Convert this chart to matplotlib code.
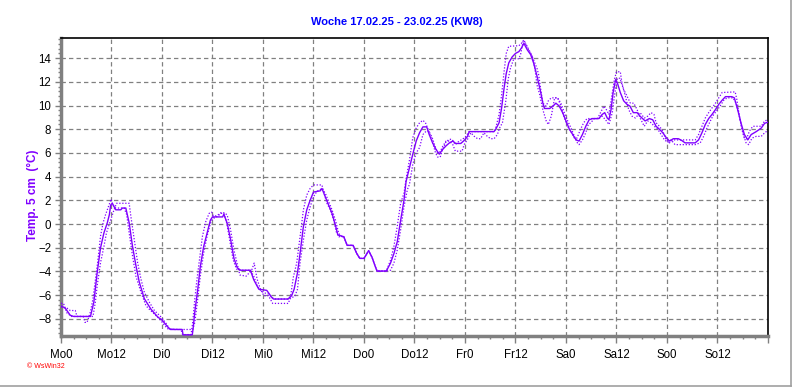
import matplotlib
matplotlib.use("Agg")
import matplotlib.pyplot as plt
from matplotlib.ticker import MultipleLocator, FixedLocator
from matplotlib.lines import Line2D

# ---------------- data (hours since Monday 0:00, temperature in °C) ----------------
main_h = [0, 1, 2.2, 3, 7, 7.8, 8.6, 9.4, 10.2, 11, 11.5, 11.8, 12.2, 13, 14.2, 14.6, 15.4, 16.2, 17, 17.8,
          18.6, 19.8, 21.4, 23, 24, 25.4, 26, 28.8, 29, 31.2, 31.4, 31.8, 32.5, 33.1, 33.9, 34.7, 35.5, 36, 38.4, 38.7,
          39.5, 40.3, 41.1, 41.9, 42.7, 45, 45.8, 47, 48.9, 50.1, 50.5, 54, 54.8, 55.4, 56.2, 56.8, 57.6, 58.4, 59.2, 60,
          61.6, 62, 62.8, 63.6, 64.4, 65.2, 65.8, 67.2, 68, 69.4, 70.3, 71, 72, 73.1, 73.9, 74.7, 75.1, 77.3, 78.3, 79.1,
          79.9, 80.7, 81.5, 82, 82.8, 83.6, 84.4, 85.2, 86, 86.9, 87.5, 88.3, 89.1, 89.9, 90.7, 91.5, 92.3, 93.1, 93.8, 95,
          95.8, 96.6, 97, 102.9, 103.3, 104.1, 104.7, 105.3, 105.8, 106.4, 107.2, 108, 108.8, 109.4, 110, 110.8, 111.6, 112.3, 113.1, 114,
          114.5, 114.9, 116.1, 116.9, 117.6, 118.4, 119.2, 120, 120.8, 121.6, 122.4, 123.1, 123.9, 124.7, 125.5, 126.3, 127.8, 128.6, 129.2, 129.8,
          130.2, 130.7, 131.2, 131.8, 132.3, 132.9, 133.7, 134.5, 135.2, 136, 136.9, 137.6, 138.8, 139.8, 140.6, 141.4, 142.2, 143, 143.8, 144.6,
          145.5, 146.7, 147.5, 148.3, 150.7, 151.5, 152.3, 153.1, 153.9, 154.7, 155.5, 156.3, 157.1, 157.9, 159.4, 160, 160.8, 161.6, 162.4, 163.2,
          164, 165.2, 166.4, 167.2, 168]
main_v = [-6.9, -7.1, -7.7, -7.8, -7.8, -6.6, -4.1, -2.0, -0.75, 0.1, 0.8, 1.6, 1.75, 1.2, 1.2, 1.35, 1.35, 0.1, -1.9, -3.5,
          -4.9, -6.3, -7.2, -7.85, -8.1, -8.7, -8.9, -8.9, -9.35, -9.35, -8.8, -7.4, -5.5, -3.6, -1.9, -0.8, 0.33, 0.6, 0.6, 0.83,
          0.05, -1.3, -2.9, -3.7, -3.9, -3.9, -4.7, -5.5, -5.6, -6.2, -6.33, -6.33, -6.05, -5.5, -4.1, -2.5, -0.2, 1.2, 2.0, 2.7,
          2.8, 3.0, 2.3, 1.6, 0.9, -0.1, -0.93, -1.07, -1.8, -1.8, -2.5, -2.9, -2.9, -2.25, -2.8, -3.6, -3.97, -3.97, -3.3, -2.5,
          -1.5, 0.3, 2.0, 3.6, 4.75, 5.9, 7.0, 7.7, 8.2, 8.2, 7.55, 6.85, 6.3, 5.9, 6.3, 6.6, 6.85, 7.0, 6.8, 6.8,
          7.05, 7.4, 7.8, 7.8, 8.0, 8.55, 9.8, 11.5, 12.7, 13.6, 14.1, 14.4, 14.55, 14.85, 15.25, 14.7, 14.3, 13.6, 12.5, 11.1,
          10.2, 9.75, 9.75, 9.95, 10.2, 9.95, 9.4, 8.7, 8.0, 7.55, 7.1, 7.0, 7.55, 8.25, 8.8, 8.9, 8.9, 9.25, 9.4, 8.95,
          8.8, 9.65, 11.1, 12.2, 11.8, 11.1, 10.4, 10.1, 9.95, 9.4, 9.4, 9.1, 8.7, 8.9, 8.8, 8.25, 8.0, 7.7, 7.3, 7.0,
          7.2, 7.2, 7.05, 6.85, 6.85, 7.1, 7.7, 8.4, 8.9, 9.25, 9.65, 10.1, 10.45, 10.75, 10.75, 10.65, 9.65, 8.5, 7.55, 7.1,
          7.55, 7.8, 8.1, 8.5, 8.6]

lead_h = [0, 0.6, 1.4, 2.5, 5.3, 5.7, 6.2, 7, 7.6, 8.2, 8.7, 9.4, 10, 10.6, 11.4, 11.9, 12.3, 13, 15, 15.6,
          16.2, 17, 17.8, 19, 20.2, 21, 22.2, 23.4, 24.6, 25.4, 28.5, 28.9, 30.9, 31.3, 31.8, 32.3, 32.9, 33.6, 34.4, 35.2,
          35.8, 36.4, 37.2, 38, 38.7, 39.4, 40.2, 40.9, 41.7, 42.5, 45, 45.8, 46.6, 47.4, 48.2, 49.3, 50.1, 50.9, 54, 54.6,
          55.2, 56, 56.8, 57.6, 58.4, 59.2, 60, 62, 62.5, 63.2, 64, 64.8, 65.4, 66, 67.2, 68, 69.4, 70.3, 71, 72,
          73.1, 73.9, 74.7, 75.1, 77.3, 78.3, 79.1, 79.9, 80.7, 81.5, 82, 82.8, 83.6, 84.4, 85.2, 86, 86.6, 87.4, 88.2, 89,
          89.5, 90.1, 90.7, 91.5, 92.3, 92.9, 93.7, 94.6, 95.4, 96.2, 97, 103, 103.3, 104.1, 104.7, 105.3, 105.8, 106.4, 108.8, 109.4,
          110, 110.8, 111.6, 112.3, 113.1, 113.5, 114, 114.5, 115.3, 115.8, 116.5, 118, 118.8, 119.6, 120.4, 121.2, 122, 122.6, 123.4, 124.2,
          125, 127.5, 128.2, 129, 129.6, 130.2, 131, 131.5, 132, 132.9, 133.3, 134.1, 134.9, 135.7, 136.5, 137.6, 138.6, 139.4, 140.2, 140.9,
          141.4, 142.2, 143, 143.8, 144.6, 145.4, 150.7, 151.5, 152.3, 153.1, 153.9, 154.7, 155.5, 156.3, 157.1, 160.2, 160.6, 161.2, 161.8, 162.4,
          162.9, 163.6, 164.4, 166.4, 167.2, 168]
lead_v = [-6.7, -6.7, -7.5, -7.8, -7.8, -8.3, -8.3, -7.4, -6.3, -4.65, -3.25, -1.0, 0.1, 0.8, 1.6, 2.1, 1.6, 1.35, 1.35, 0.8,
          -0.75, -2.7, -4.4, -5.75, -6.9, -7.2, -7.6, -8.0, -8.55, -8.85, -8.9, -9.33, -9.33, -8.3, -6.3, -4.7, -3.0, -1.05, 0.2, 0.9,
          1.0, 0.5, 0.65, 0.9, 0.9, 0.05, -1.6, -3.0, -3.8, -3.9, -3.9, -4.4, -5.2, -5.6, -5.8, -5.9, -6.2, -6.33, -6.33, -6.0,
          -4.5, -3.3, -1.1, 1.2, 2.45, 3.0, 3.3, 3.3, 2.6, 1.75, 1.2, 0.35, -0.65, -1.07, -1.07, -1.8, -1.8, -2.5, -2.9, -2.9,
          -2.25, -2.8, -3.6, -3.97, -3.97, -3.05, -1.9, -0.2, 1.75, 2.6, 3.8, 5.4, 7.3, 8.1, 8.55, 8.75, 8.55, 7.85, 7.0, 6.0,
          5.65, 5.65, 6.3, 6.95, 7.15, 7.15, 6.7, 7.0, 7.15, 7.4, 7.8, 7.8, 8.1, 9.25, 10.9, 12.9, 14.4, 15.0, 15.05, 15.25,
          15.55, 14.85, 14.4, 13.85, 13.15, 12.6, 11.35, 10.2, 9.95, 10.4, 10.65, 10.65, 9.95, 8.95, 8.25, 7.8, 7.25, 7.25, 7.95, 8.55,
          8.9, 8.9, 9.4, 9.95, 9.65, 9.25, 11.1, 12.2, 12.85, 12.85, 11.9, 10.8, 9.65, 9.1, 8.95, 9.4, 8.95, 9.1, 9.4, 9.25,
          8.55, 8.25, 7.85, 7.1, 6.85, 7.1, 7.1, 7.55, 8.25, 8.95, 9.4, 9.8, 10.2, 10.65, 11.1, 11.15, 10.5, 9.1, 8.0, 7.25,
          7.2, 7.85, 8.25, 8.25, 8.7, 8.8]

lag_h = [0, 1.4, 2.2, 3.4, 3.8, 7.6, 8.2, 8.6, 9.4, 10.2, 10.8, 11.8, 12.6, 13.2, 16.2, 16.6, 17.4, 18.2, 19, 19.8,
         21, 22.2, 23.8, 25, 25.8, 27, 31.3, 31.8, 32.5, 33.1, 33.9, 34.7, 35.5, 36.2, 37.2, 38, 38.9, 39.5, 40.3, 41.1,
         41.9, 42.5, 44, 45.3, 45.9, 46.6, 47.4, 48.2, 49.3, 50.3, 54, 54.4, 55.6, 56.2, 56.8, 57.6, 58.4, 59.2, 60, 60.8,
         62, 62.8, 63.6, 64.4, 65.2, 66, 66.8, 67.2, 68, 69.4, 70.3, 71, 72, 73.1, 73.9, 74.7, 75.1, 77.3, 78.3, 79.1,
         79.9, 80.7, 81.5, 82.3, 82.8, 83.6, 84.4, 85.2, 86, 86.8, 87.4, 88.2, 89, 89.5, 90.1, 90.7, 91.5, 92.3, 93.1, 93.7,
         95.3, 95.8, 96.6, 97.4, 98.2, 99, 99.7, 100.5, 101.3, 102.1, 102.9, 103.7, 104.2, 104.9, 105.7, 106.3, 106.8, 107.6, 108.8, 109.2,
         109.8, 110.4, 111.2, 112, 112.6, 113.1, 113.7, 114.5, 115.3, 115.8, 116.5, 117.3, 118, 118.8, 119.6, 120.4, 121.2, 122, 122.7, 123.1,
         123.9, 124.7, 125.3, 125.9, 126.7, 127.8, 128.6, 129.4, 130.2, 131, 131.5, 132.2, 132.8, 133.7, 134.5, 135.3, 136.1, 136.9, 137.6, 138.6,
         139.4, 140.2, 141, 141.8, 142.6, 143.4, 144.2, 145, 145.9, 150.7, 151.9, 152.7, 153.5, 154.3, 155.1, 155.9, 156.7, 157.5, 158.3, 159.7,
         160.4, 161.2, 162, 162.8, 163.4, 164.2, 165.2, 166.4, 167.2, 168]
lag_v = [-7.0, -7.1, -7.3, -7.3, -7.8, -7.8, -6.5, -5.2, -3.25, -1.9, -0.75, 0.35, 1.2, 1.75, 1.75, 0.65, -1.3, -3.25, -4.65, -5.75,
         -6.6, -7.3, -7.85, -8.4, -8.85, -8.9, -8.9, -8.3, -6.3, -4.4, -2.45, -1.05, 0.05, 0.6, 0.75, 0.95, 0.95, 0.75, -0.5, -2.2,
         -3.4, -4.3, -4.4, -3.9, -3.3, -4.65, -5.5, -6.05, -6.05, -6.7, -6.7, -6.33, -6.05, -5.5, -3.3, -1.35, 0.35, 1.45, 2.3, 2.75,
         3.0, 2.6, 1.9, 1.2, 0.35, -0.8, -1.07, -1.07, -1.8, -1.8, -2.5, -2.9, -2.9, -2.25, -2.8, -3.6, -3.97, -3.97, -3.9, -3.3,
         -2.2, -0.5, 1.45, 2.9, 3.35, 5.05, 6.0, 6.45, 7.55, 7.85, 7.85, 7.3, 6.45, 6.0, 6.1, 6.55, 7.0, 7.0, 6.7, 6.15,
         6.15, 6.7, 7.15, 7.7, 7.4, 7.2, 7.2, 7.7, 7.4, 7.2, 7.2, 7.55, 8.1, 8.55, 10.4, 12.3, 13.15, 13.95, 13.95, 14.3,
         15.4, 15.25, 14.7, 14.15, 13.15, 11.75, 11.0, 9.65, 8.7, 8.4, 9.1, 10.65, 10.65, 10.2, 9.4, 8.7, 8.1, 7.4, 6.85, 6.7,
         7.1, 7.7, 8.4, 8.55, 8.9, 8.9, 9.1, 8.8, 8.4, 9.4, 10.8, 12.3, 12.3, 11.35, 10.8, 10.2, 10.2, 9.65, 8.95, 8.25,
         8.7, 8.55, 8.25, 8.0, 7.55, 7.1, 6.9, 7.1, 6.7, 6.7, 6.85, 7.4, 8.1, 8.7, 9.25, 9.6, 10.0, 10.45, 10.65, 10.65,
         10.2, 9.1, 7.7, 6.85, 6.7, 7.25, 7.4, 7.4, 7.7, 7.9]

tick_labels = ['Mo0', 'Mo12', 'Di0', 'Di12', 'Mi0', 'Mi12', 'Do0', 'Do12',
               'Fr0', 'Fr12', 'Sa0', 'Sa12', 'So0', 'So12', '']
title = 'Woche 17.02.25 - 23.02.25 (KW8)'
ylabel = 'Temp. 5 cm  (°C)'

# ---------------- figure ----------------
plt.rcParams['font.family'] = ['Liberation Sans', 'DejaVu Sans']
W, H = 792, 387
fig = plt.figure(figsize=(W / 100, H / 100), dpi=100)
fig.patch.set_facecolor('white')
L, R, T, B = 61, 768, 38, 336
ax = fig.add_axes([L / W, 1 - B / H, (R - L) / W, (B - T) / H])

col = '#8000ff'
ax.plot(lead_h, lead_v, color=col, lw=0.9, ls=(0, (1, 1.4)), zorder=3)
ax.plot(lag_h, lag_v, color=col, lw=0.9, ls=(0, (1, 1.4)), zorder=3)
ax.plot(main_h, main_v, color=col, lw=1.0, zorder=4)

ax.set_xlim(0, 168)
ax.set_ylim(-9.45, 15.7)

ax.xaxis.set_major_locator(FixedLocator(list(range(0, 169, 12))))
ax.set_xticklabels(tick_labels)
ax.xaxis.set_minor_locator(MultipleLocator(3))
ax.yaxis.set_major_locator(MultipleLocator(2))
ax.yaxis.set_minor_locator(MultipleLocator(0.4))

ax.grid(True, which='major', color='#808080', ls=(0, (3.5, 2.5)), lw=0.9)
ax.tick_params(axis='both', which='major', labelsize=8.3, color='#808080', width=1, direction='out')
ax.tick_params(axis='x', which='major', length=5, pad=4)
ax.tick_params(axis='y', which='major', length=4, pad=3)
ax.tick_params(axis='both', which='minor', color='#808080', width=1, length=2.5)

for s in ['top', 'right']:
    ax.spines[s].set_color('black')
    ax.spines[s].set_linewidth(1.2)
for s in ['left', 'bottom']:
    ax.spines[s].set_color('#808080')
    ax.spines[s].set_linewidth(2.5)

fig.text(397 / W, 1 - 22 / H, title, ha='center', va='center', color='#0000ff',
         fontsize=8, fontweight='bold')
fig.text(33 / W, 1 - 195 / H, ylabel, ha='center', va='center', rotation=90,
         color=col, fontsize=8.5, fontweight='bold')
fig.text(27 / W, 1 - 367 / H, '© WsWin32', ha='left', va='center', color='#ff0000',
         fontsize=5)

fig.add_artist(Line2D([0, 790.5 / W], [1 - 386 / H, 1 - 386 / H], transform=fig.transFigure,
                      color='#a0a0a0', lw=1.2))
fig.add_artist(Line2D([790.5 / W, 790.5 / W], [1 - 386 / H, 1], transform=fig.transFigure,
                      color='#a0a0a0', lw=1.2))

fig.savefig('out.png', dpi=100, facecolor='white')
